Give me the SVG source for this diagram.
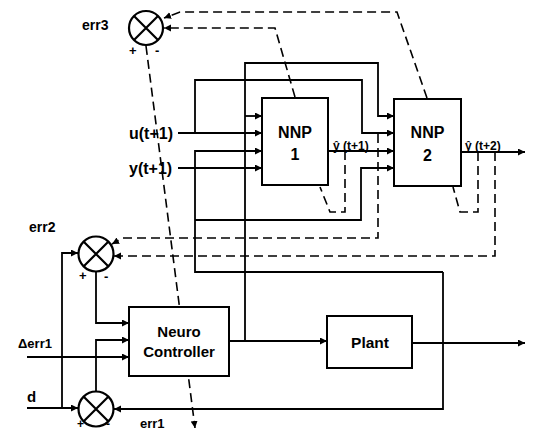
<svg xmlns="http://www.w3.org/2000/svg" width="538" height="433" viewBox="0 0 538 433">
<defs>
<marker id="ah" markerUnits="userSpaceOnUse" markerWidth="8" markerHeight="8" refX="7" refY="3.5" orient="auto">
<path d="M0,0 L7,3.5 L0,7 z" fill="#000"/>
</marker>
<style>
.box{fill:#fff;stroke:#000;stroke-width:2}
.sum{fill:#fff;stroke:#000;stroke-width:2.2}
.x{stroke:#000;stroke-width:2.2}
.w{fill:none;stroke:#000;stroke-width:1.8}
.d{fill:none;stroke:#000;stroke-width:1.6;stroke-dasharray:9,5}
.a{marker-end:url(#ah)}
text{font-family:"Liberation Sans",Arial,sans-serif;font-weight:bold;fill:#000}
.c{text-anchor:middle}
</style>
</defs>
<rect width="538" height="433" fill="#fff"/>
<g id="connectors">
<path class="w a" d="M178,133 H262"/>
<path class="w a" d="M195,133 V80 H362 V133 H394"/>
<path class="w a" d="M178,168 H262"/>
<path class="w a" d="M229,341 H327"/>
<path class="w a" d="M245,341 V63 H378 V116 H394"/>
<path class="w a" d="M245,116 H262"/>
<path class="w a" d="M412,343 H525"/>
<path class="w a" d="M443,343 V409 H114"/>
<path class="w a" d="M443,272 H195 V151 H262"/>
<path class="w a" d="M195,220 H361 V168 H394"/>
<path class="w a" d="M328,151 H394"/>
<path class="w a" d="M461,152 H525"/>
<path class="w a" d="M27,408 H78"/>
<path class="w a" d="M62,408 V253 H78"/>
<path class="w a" d="M96,272 V323 H129"/>
<path class="w a" d="M96,391 V340 H129"/>
<path class="w a" d="M27,357 H129"/>
<path class="w" d="M443,272 V343"/>
<path class="d a" d="M427,98 L397,12 H180 L164,18"/>
<path class="d a" d="M295,97 L275,28 H164"/>
<path class="d a" d="M146,46 L195,428"/>
<path class="d" d="M345,151 V212 H330 L320,187"/>
<path class="d" d="M478,152 V212 H460 L453,187"/>
<path class="d a" d="M378,134 V238 H123 L112,244"/>
<path class="d a" d="M495,152 V256 H114"/>
</g>
<g id="err3">
<circle class="sum" cx="146" cy="28" r="17"/>
<path class="x" d="M134,16 L158,40 M158,16 L134,40"/>
<text x="82" y="30" font-size="14">err3</text>
<text x="129" y="55" font-size="13">+</text>
<text x="155" y="55" font-size="13">-</text>
</g>
<g id="err2">
<circle class="sum" cx="96" cy="254" r="17.5"/>
<path class="x" d="M84,242 L108,266 M108,242 L84,266"/>
<text x="29" y="232" font-size="14">err2</text>
<text x="79" y="280" font-size="13">+</text>
<text x="104" y="281" font-size="13">-</text>
</g>
<g id="err1">
<circle class="sum" cx="96" cy="409" r="17.5"/>
<path class="x" d="M84,397 L108,421 M108,397 L84,421"/>
<text x="77" y="428" font-size="12">+</text>
<text x="106" y="428" font-size="12">-</text>
<text x="140" y="428" font-size="13">err1</text>
</g>
<g id="nnp1">
<rect class="box" x="262" y="98" width="66" height="87"/>
<text class="c" x="295" y="138" font-size="16">NNP</text>
<text class="c" x="295" y="160" font-size="16">1</text>
</g>
<g id="nnp2">
<rect class="box" x="394" y="99" width="67" height="87"/>
<text class="c" x="427.5" y="138" font-size="16">NNP</text>
<text class="c" x="427.5" y="161" font-size="16">2</text>
</g>
<g id="neuro">
<rect class="box" x="129" y="307" width="100" height="69"/>
<text class="c" x="179" y="337" font-size="15">Neuro</text>
<text class="c" x="179" y="357" font-size="15">Controller</text>
</g>
<g id="plant">
<rect class="box" x="327" y="316" width="85" height="52"/>
<text class="c" x="370" y="348" font-size="15.5">Plant</text>
</g>
<g id="labels">
<text x="129" y="139" font-size="16">u(t+1)</text>
<text x="129" y="174" font-size="16">y(t+1)</text>
<text x="333" y="150" font-size="12">ŷ (t+1)</text>
<text x="465" y="150" font-size="12">ŷ (t+2)</text>
<text x="18" y="348" font-size="13">Δerr1</text>
<text x="27" y="402" font-size="15">d</text>
</g>
</svg>
